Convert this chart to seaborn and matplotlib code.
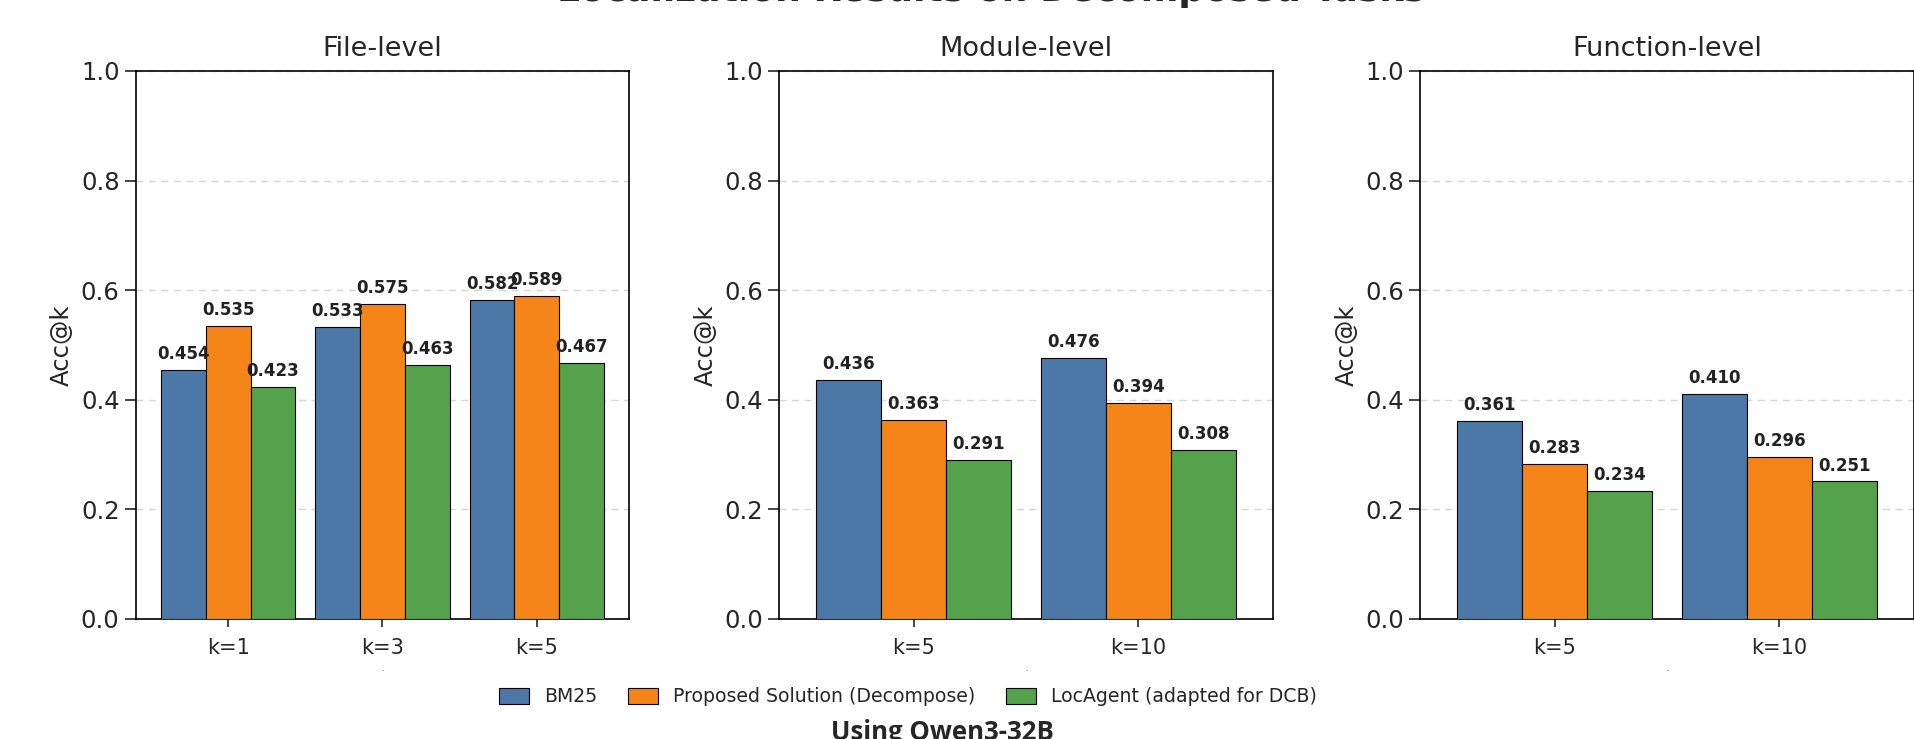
import matplotlib
matplotlib.use("Agg")
import matplotlib.pyplot as plt
import seaborn as sns
import pandas as pd
from matplotlib.patches import Patch

methods = ["BM25", "Proposed Solution (Decompose)", "LocAgent (adapted for DCB)"]
colors = ["#4C78A8", "#F58518", "#54A24B"]

file_k = ["k=1", "k=3", "k=5"]
file_bm25 = [0.454, 0.533, 0.582]
file_prop = [0.535, 0.575, 0.589]
file_loc = [0.423, 0.463, 0.467]

module_k = ["k=5", "k=10"]
module_bm25 = [0.436, 0.476]
module_prop = [0.363, 0.394]
module_loc = [0.291, 0.308]

func_k = ["k=5", "k=10"]
func_bm25 = [0.361, 0.410]
func_prop = [0.283, 0.296]
func_loc = [0.234, 0.251]

panels = [
    ("File-level", file_k, [file_bm25, file_prop, file_loc]),
    ("Module-level", module_k, [module_bm25, module_prop, module_loc]),
    ("Function-level", func_k, [func_bm25, func_prop, func_loc]),
]

sns.set_style("white")
plt.rcParams["font.family"] = ["DejaVu Sans"]

fig = plt.figure(figsize=(19.14, 7.39), dpi=100)
lefts = [135.5 / 1914, 779 / 1914, 1420 / 1914]
w = 494 / 1914
bottom = 1 - 619 / 739
h = 548 / 739

for (title, ks, series), left in zip(panels, lefts):
    ax = fig.add_axes([left, bottom, w, h])
    rows = []
    for m, vals in zip(methods, series):
        for k, v in zip(ks, vals):
            rows.append({"k": k, "method": m, "value": v})
    df = pd.DataFrame(rows)
    sns.barplot(data=df, x="k", y="value", hue="method", hue_order=methods,
                order=ks, palette=colors, saturation=1, width=0.87,
                edgecolor="black", linewidth=0.8, ax=ax, legend=False,
                errorbar=None, zorder=3)
    for c in ax.containers:
        ax.bar_label(c, fmt="%.3f", padding=5, fontsize=12,
                     fontweight="bold", color="#222222")
    ax.set_ylim(0, 1.0)
    ax.set_xlim(-0.6, len(ks) - 0.4)
    ax.set_yticks([0.0, 0.2, 0.4, 0.6, 0.8, 1.0])
    ax.yaxis.grid(True, linestyle=(0, (5, 4)), color="#d6d6d6", linewidth=1.0, zorder=0)
    ax.set_axisbelow(True)
    ax.set_title(title, fontsize=19.5, pad=11)
    ax.set_ylabel("Acc@k", fontsize=17.5, labelpad=5)
    ax.set_xlabel(".", fontsize=5, labelpad=6)
    ax.tick_params(axis="x", labelsize=15, length=6, width=1.2,
                   direction="out", bottom=True, pad=7.5)
    ax.tick_params(axis="y", labelsize=17.5, length=8, width=1.2,
                   direction="out", left=True)
    for s in ax.spines.values():
        s.set_visible(True)
        s.set_color("black")
        s.set_linewidth(1.2)

handles = [Patch(facecolor=c, edgecolor="black", linewidth=0.8, label=m)
           for c, m in zip(colors, methods)]
fig.legend(handles=handles, loc="center", bbox_to_anchor=(908 / 1914, 1 - 697 / 739),
           ncol=3, frameon=False, fontsize=13.6, handlelength=1.6,
           handleheight=0.9, columnspacing=1.6)

fig.text(942 / 1914, 1 - 719 / 739, "Using Qwen3-32B", ha="center", va="top",
         fontsize=18.5, fontweight="bold", family=["Open Sans", "DejaVu Sans"])
fig.text(991 / 1914, 1 - 0.5 / 739, "Localization Results on Decomposed Tasks",
         ha="center", va="baseline", fontsize=26, fontweight="bold")

fig.savefig("out.png", dpi=100)
